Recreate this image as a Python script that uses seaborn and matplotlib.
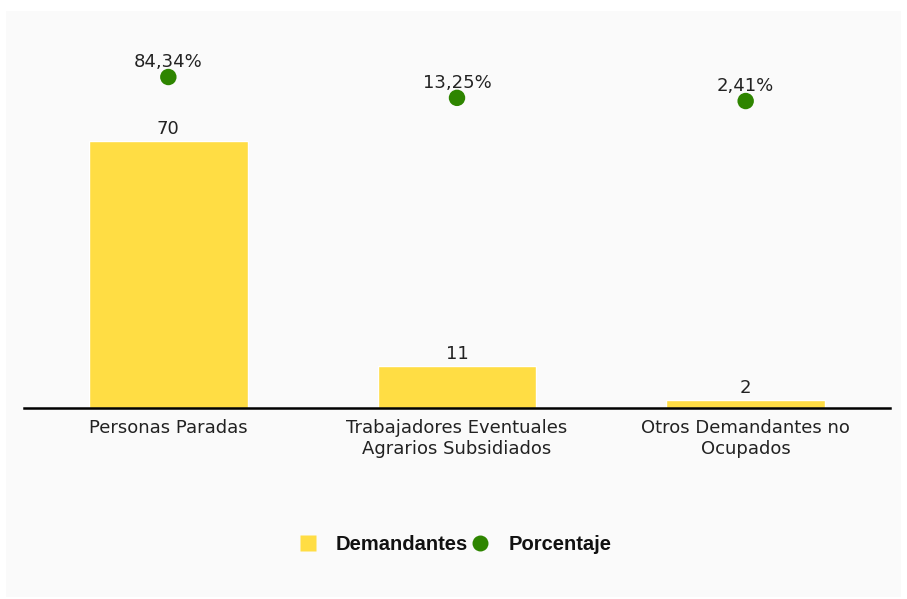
import seaborn as sns
import numpy as np
import matplotlib.pyplot as plt
from matplotlib.patches import Rectangle
from matplotlib.lines import Line2D

categories = ['Personas Paradas',
              'Trabajadores Eventuales\nAgrarios Subsidiados',
              'Otros Demandantes no\nOcupados']
demandantes = [70, 11, 2]
porcentaje = [84.34, 13.25, 2.41]
pct_labels = ['84,34%', '13,25%', '2,41%']

bar_color = '#ffdd44'
dot_color = '#2e8500'

sns.set_style('white')
plt.rcParams['font.family'] = ['DejaVu Sans']

fig = plt.figure(figsize=(9.07, 5.99), dpi=100)
fig.patch.set_facecolor('white')
fig.patches.append(Rectangle((6 / 907, 2 / 599), 895 / 907, 586 / 599,
                             transform=fig.transFigure, facecolor='#fafafa',
                             edgecolor='none', zorder=-10))

ax = fig.add_axes([24 / 907, 1 - 408 / 599, 866 / 907, 381 / 599])
ax.patch.set_alpha(0)
x = np.arange(len(categories))
sns.barplot(x=x, y=demandantes, ax=ax, color=bar_color, width=0.55,
            saturation=1, native_scale=True)
ax.set_xlim(-0.5, 2.5)
ax.set_ylim(0, 100)
for xi, v in zip(x, demandantes):
    ax.text(xi, v + 0.8, str(v), ha='center', va='bottom', fontsize=13,
            color='#222222')

for s in ['top', 'left', 'right']:
    ax.spines[s].set_visible(False)
ax.spines['bottom'].set_color('black')
ax.spines['bottom'].set_linewidth(1.8)
ax.set_yticks([])
ax.set_xticks(x)
ax.set_xticklabels(categories, fontsize=13, color='#222222',
                   linespacing=1.2)
ax.tick_params(axis='x', length=0, pad=8)
ax.set_xlabel('')
ax.set_ylabel('')

ax2 = ax.twinx()
sns.scatterplot(x=x, y=porcentaje, ax=ax2, color=dot_color, s=140,
                edgecolor='none', zorder=5)
ax2.set_ylim(-1045, 255)
ax2.set_xlim(-0.5, 2.5)
ax2.set_yticks([])
ax2.set_ylabel('')
for s in ax2.spines.values():
    s.set_visible(False)
for xi, v, lab in zip(x, porcentaje, pct_labels):
    ax2.text(xi, v + 20, lab, ha='center', va='bottom', fontsize=13,
             color='#222222')

handles = [Line2D([], [], marker='s', color='none', markerfacecolor=bar_color,
                  markeredgecolor='none', markersize=11.5),
           Line2D([], [], marker='o', color='none', markerfacecolor=dot_color,
                  markeredgecolor='none', markersize=11.5)]
fig.legend(handles, ['Demandantes', 'Porcentaje'], loc='center',
           bbox_to_anchor=(0.5, 1 - 545 / 599), ncol=2, frameon=False,
           columnspacing=0.0, handletextpad=0.8, handlelength=1.2,
           labelcolor='#111111',
           prop={'family': 'Liberation Sans', 'weight': 'bold', 'size': 14.5})

fig.savefig('out.png', dpi=100)
plt.close()
